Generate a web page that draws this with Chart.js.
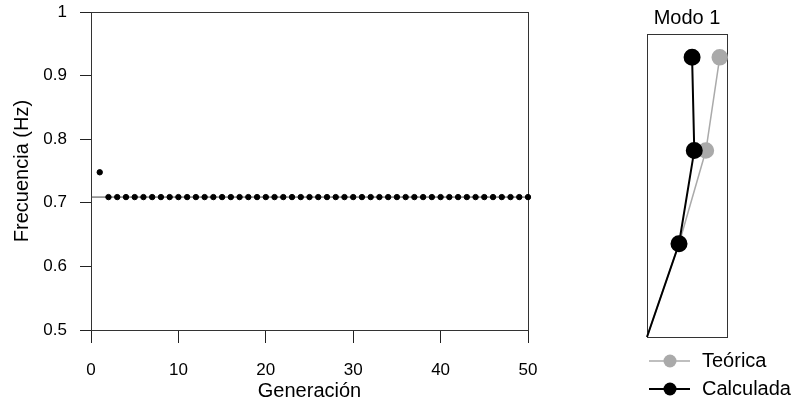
<!DOCTYPE html>
<html>
<head>
<meta charset="utf-8">
<title>Frecuencia por generación</title>
<script src="https://cdn.jsdelivr.net/npm/chart.js@4.4.0/dist/chart.umd.min.js"></script>
<style>
	html, body { margin:0; padding:0; background:#fff; }
	#wrap { position:relative; width:796px; height:410px; }
	#chart_frecuencia { position:absolute; left:0; top:0; }
	#chart_modo { position:absolute; left:560px; top:0; }
</style>
</head>
<body>
<div id="wrap">
	<canvas id="chart_frecuencia" width="560" height="410"></canvas>
	<canvas id="chart_modo" width="236" height="410"></canvas>
</div>
<script>
"use strict";

// datos del grafico principal
var generaciones = [1, 2, 3, 4, 5, 6, 7, 8, 9, 10, 11, 12, 13, 14, 15, 16, 17, 18, 19, 20,
	21, 22, 23, 24, 25, 26, 27, 28, 29, 30, 31, 32, 33, 34, 35, 36, 37, 38, 39, 40,
	41, 42, 43, 44, 45, 46, 47, 48, 49, 50];
var frecuencias = [0.748, 0.709, 0.709, 0.709, 0.709, 0.709, 0.709, 0.709, 0.709, 0.709,
	0.709, 0.709, 0.709, 0.709, 0.709, 0.709, 0.709, 0.709, 0.709, 0.709,
	0.709, 0.709, 0.709, 0.709, 0.709, 0.709, 0.709, 0.709, 0.709, 0.709,
	0.709, 0.709, 0.709, 0.709, 0.709, 0.709, 0.709, 0.709, 0.709, 0.709,
	0.709, 0.709, 0.709, 0.709, 0.709, 0.709, 0.709, 0.709, 0.709, 0.709];
var frecuenciaObjetivo = 0.709;
var xTicks = [0, 10, 20, 30, 40, 50];
var yTicks = [0.5, 0.6, 0.7, 0.8, 0.9, 1];

// datos de la forma modal
var niveles = [0, 1, 2, 3];
var modoTeorico = [0, 0.44, 0.81, 1.0];
var modoCalculado = [0, 0.44, 0.65, 0.62];
var etiquetasModo = ['Teórica', 'Calculada'];

Chart.defaults.font.family = "'Liberation Sans', Arial, sans-serif";
Chart.defaults.color = '#000';

var bordeCaja = {
	id: 'bordeCaja',
	beforeDatasetsDraw: function (chart) {
		var a = chart.chartArea;
		var ctx = chart.ctx;
		ctx.save();
		ctx.strokeStyle = '#333';
		ctx.lineWidth = 1;
		ctx.strokeRect(Math.round(a.left) + 0.5, Math.round(a.top) + 0.5,
			Math.round(a.right - a.left), Math.round(a.bottom - a.top));
		ctx.restore();
	}
};

var leyendaModo = {
	id: 'leyendaModo',
	afterDraw: function (chart) {
		var a = chart.chartArea;
		var ctx = chart.ctx;
		ctx.save();
		chart.data.datasets.forEach(function (ds, i) {
			var y = a.bottom + 24 + i * 28;
			ctx.strokeStyle = ds.borderColor;
			ctx.lineWidth = ds.borderWidth;
			ctx.beginPath();
			ctx.moveTo(a.left + 2, y);
			ctx.lineTo(a.left + 43, y);
			ctx.stroke();
			ctx.fillStyle = ds.backgroundColor;
			ctx.beginPath();
			ctx.arc(a.left + 23, y, 6.5, 0, Math.PI * 2);
			ctx.fill();
			ctx.fillStyle = '#000';
			ctx.font = "20px 'Liberation Sans', Arial, sans-serif";
			ctx.textBaseline = 'middle';
			ctx.textAlign = 'left';
			ctx.fillText(ds.label, a.left + 55, y);
		});
		ctx.restore();
	}
};

onLoadFrecuenciaChart();
onLoadModoChart();

function onLoadFrecuenciaChart() {
	var puntos = generaciones.map(function (g, i) {
		return { x: g, y: frecuencias[i] };
	});
	var linea = [
		{ x: xTicks[0], y: frecuenciaObjetivo },
		{ x: xTicks[xTicks.length - 1], y: frecuenciaObjetivo }
	];

	var FrecuenciaChart = new Chart('chart_frecuencia', {
		type: 'scatter',
		data: {
			datasets: [{
				label: 'Frecuencia',
				data: puntos,
				backgroundColor: '#000',
				borderColor: '#000',
				pointRadius: 2.7,
				pointHoverRadius: 2.7,
				clip: false,
				order: 0
			}, {
				label: 'Objetivo',
				data: linea,
				showLine: true,
				borderColor: '#444',
				borderWidth: 1,
				pointRadius: 0,
				order: 1
			}]
		},
		options: {
			responsive: false,
			animation: false,
			events: [],
			layout: {
				padding: { left: 0, top: 12, right: 32, bottom: 0 }
			},
			plugins: {
				legend: { display: false },
				tooltip: { enabled: false }
			},
			scales: {
				x: {
					type: 'linear',
					min: 0,
					max: 50,
					afterBuildTicks: function (scale) {
						scale.ticks = xTicks.map(function (v) { return { value: v }; });
					},
					afterFit: function (scale) { scale.height = 80; },
					border: { display: true, color: '#222', width: 1 },
					grid: { drawOnChartArea: false, drawTicks: true, tickLength: 13, tickColor: '#222' },
					ticks: {
						autoSkip: false,
						maxRotation: 0,
						padding: 17,
						font: { size: 17 },
						callback: function (v) { return String(v); }
					},
					title: {
						display: true,
						text: 'Generación',
						font: { size: 20 },
						padding: { top: 0, bottom: 7 }
					}
				},
				y: {
					type: 'linear',
					min: 0.5,
					max: 1,
					afterBuildTicks: function (scale) {
						scale.ticks = yTicks.map(function (v) { return { value: v }; });
					},
					afterFit: function (scale) {
						scale.width = 91;
						scale.paddingTop = 0;
						scale.paddingBottom = 0;
					},
					border: { display: true, color: '#222', width: 1 },
					grid: { drawOnChartArea: false, drawTicks: true, tickLength: 11, tickColor: '#222' },
					ticks: {
						autoSkip: false,
						padding: 13,
						font: { size: 17 },
						callback: function (v) { return String(v); }
					},
					title: {
						display: true,
						text: 'Frecuencia (Hz)',
						font: { size: 20 },
						padding: { top: 10, bottom: 0 }
					}
				}
			}
		},
		plugins: [bordeCaja]
	});
}

function onLoadModoChart() {
	var teorico = niveles.map(function (n, i) { return { x: modoTeorico[i], y: n }; });
	var calculado = niveles.map(function (n, i) { return { x: modoCalculado[i], y: n }; });

	var ModoChart = new Chart('chart_modo', {
		type: 'scatter',
		data: {
			datasets: [{
				label: etiquetasModo[0],
				data: teorico,
				showLine: true,
				borderColor: '#aaaaaa',
				backgroundColor: '#aaaaaa',
				borderWidth: 1.5,
				pointRadius: [0, 7.5, 7.5, 7.5],
				pointHoverRadius: [0, 7.5, 7.5, 7.5],
				clip: false,
				order: 1
			}, {
				label: etiquetasModo[1],
				data: calculado,
				showLine: true,
				borderColor: '#000',
				backgroundColor: '#000',
				borderWidth: 2,
				pointRadius: [0, 7.5, 7.5, 7.5],
				pointHoverRadius: [0, 7.5, 7.5, 7.5],
				clip: false,
				order: 0
			}]
		},
		options: {
			responsive: false,
			animation: false,
			events: [],
			layout: {
				padding: { left: 87, top: 0, right: 69, bottom: 73 }
			},
			plugins: {
				legend: { display: false },
				tooltip: { enabled: false },
				title: {
					display: true,
					text: 'Modo 1',
					color: '#000',
					font: { size: 20, weight: 'normal' },
					padding: { top: 6, bottom: 4 }
				}
			},
			scales: {
				x: { type: 'linear', min: 0, max: 1.1, display: false },
				y: { type: 'linear', min: 0, max: 3.25, display: false }
			}
		},
		plugins: [bordeCaja, leyendaModo]
	});
}
</script>
</body>
</html>
